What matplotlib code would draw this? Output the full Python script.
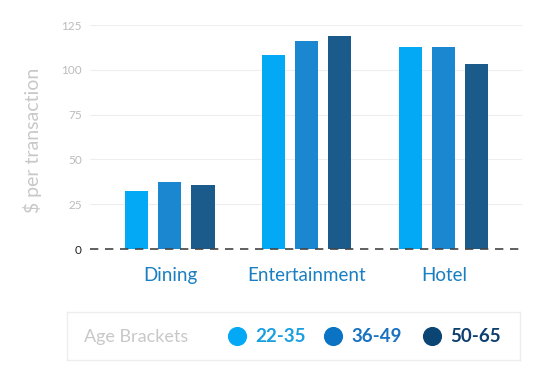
import numpy as np
import matplotlib.pyplot as plt
from matplotlib.patches import FancyBboxPatch

plt.rcParams['font.family'] = ['Lato', 'DejaVu Sans']

categories = ['Dining', 'Entertainment', 'Hotel']
age_brackets = ['22-35', '36-49', '50-65']
spend_22_35 = [32.5, 108, 112.5]
spend_36_49 = [37.5, 116, 112.5]
spend_50_65 = [35.5, 119, 103.5]
yticks = [0, 25, 50, 75, 100, 125]

bar_colors = ['#03A9F4', '#1C87D1', '#1B5B8C']
dot_colors = ['#03A9F4', '#0A73C4', '#0B4574']
label_colors = ['#1A9FE0', '#1A72C0', '#0D3F6F']

fig = plt.figure(figsize=(5.40, 3.79), dpi=100)
ax = fig.add_axes([90 / 540, 130 / 379, 432 / 540, 224 / 379])

x = np.arange(len(categories))
width = 0.168
offset = 0.241
series = [spend_22_35, spend_36_49, spend_50_65]
for i, vals in enumerate(series):
    ax.bar(x + (i - 1) * offset, vals, width, color=bar_colors[i], zorder=3)

ax.set_xlim(-0.584, 2.57)
ax.set_ylim(0, 125)

# gridlines
for t in yticks[1:]:
    ax.axhline(t, color='#EEEEEE', lw=0.8, zorder=1)
ax.axhline(0, color='#444444', lw=1.2, ls=(0, (5, 4)), zorder=4, clip_on=False)

ax.set_yticks(yticks)
ax.set_yticklabels([str(t) for t in yticks], fontsize=8.5, color='#BBBBBB')
ax.get_yticklabels()[0].set_color('#222222')
ax.tick_params(axis='y', length=0, pad=6)
ax.set_xticks(x)
ax.set_xticklabels(categories, fontsize=13.5, color='#1A7EC2')
ax.tick_params(axis='x', length=0, pad=13)
for s in ax.spines.values():
    s.set_visible(False)

fig.text(33 / 540, 1 - 140 / 379, '$ per transaction', rotation=90, fontsize=14,
         color='#C8C8C8', ha='center', va='center')

# legend box as its own axes
lax = fig.add_axes([67 / 540, 1 - 360 / 379, 453 / 540, 48 / 379])
lax.set_xlim(67, 520)
lax.set_ylim(360, 312)
lax.set_xticks([])
lax.set_yticks([])
for s in lax.spines.values():
    s.set_color('#EDEDED')
    s.set_linewidth(1)
ly = 337
lax.text(84, ly, 'Age Brackets', fontsize=13, color='#C8C8C8', va='center')
dot_x = [237, 333, 432]
for i, lab in enumerate(age_brackets):
    lax.scatter([dot_x[i]], [ly - 1], s=190, color=dot_colors[i], lw=0)
    lax.text(dot_x[i] + 18, ly, lab, fontsize=13.5, fontweight='bold',
             color=label_colors[i], va='center')

fig.savefig('out.png', dpi=100)
